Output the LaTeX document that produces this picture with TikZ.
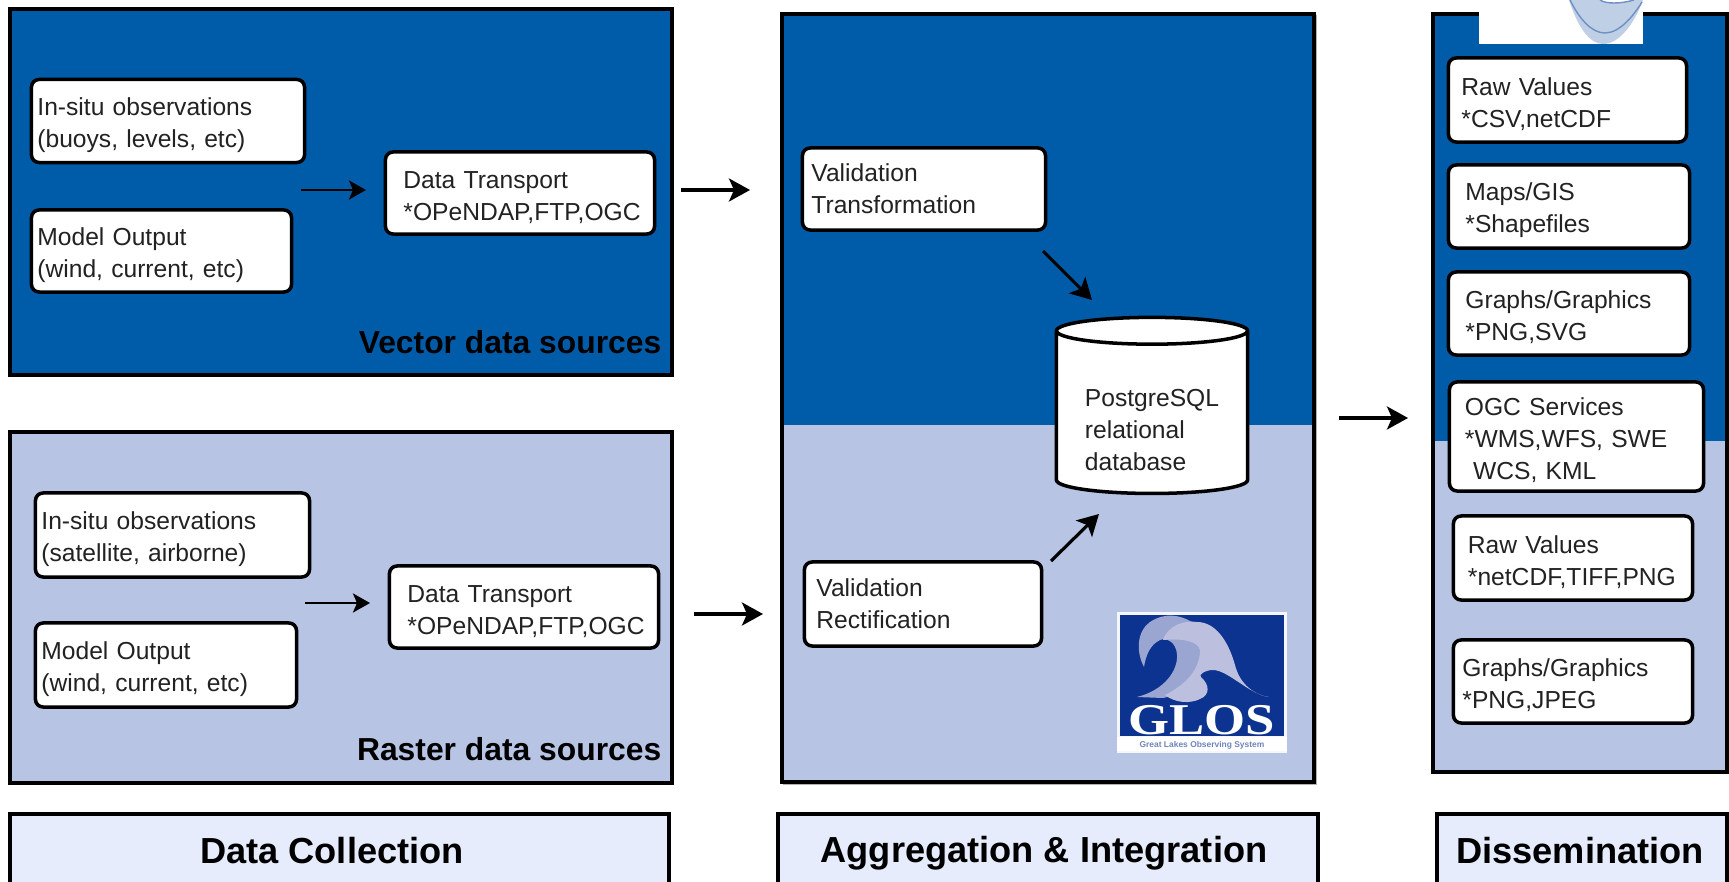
\documentclass[tikz,border=0pt]{standalone}
\usepackage{fontspec}
\setmainfont{Liberation Sans}
\newfontfamily\glosfont[FakeStretch=1.2]{Liberation Serif}
\usetikzlibrary{arrows.meta,shapes.geometric}

\definecolor{vectorblue}{HTML}{005CA9}
\definecolor{rasterblue}{HTML}{B7C4E4}
\definecolor{titleblue}{HTML}{E6ECFB}
\definecolor{logoblue}{HTML}{0D3390}
\definecolor{wavemid}{HTML}{9AA5D2}
\definecolor{wavelight}{HTML}{BCC0DE}
\definecolor{bowlblue}{HTML}{BFD0E6}
\definecolor{bowlline}{HTML}{6F8FC5}
\definecolor{textgray}{HTML}{222222}

\tikzset{
  panelline/.style={draw=black,line width=1pt},
  midbox/.style={draw=black,fill=white,rounded corners=2.2pt,line width=1pt,
    inner ysep=0pt,align=left,text=textgray,
    font=\fontsize{7}{9.1}\selectfont},
  srcbox/.style={midbox,execute at begin node={\rule{0pt}{7.3pt}\ignorespaces}},
  panellabel/.style={anchor=east,inner sep=0pt,font=\fontsize{9.05}{10}\selectfont\bfseries},
  titlelabel/.style={inner sep=0pt,font=\fontsize{10.3}{11}\selectfont\bfseries},
  conn/.style={-{Stealth[length=0.17cm,width=0.19cm,inset=0.04cm]},line width=0.8pt,black},
  connbig/.style={-{Stealth[length=0.21cm,width=0.23cm,inset=0.05cm]},line width=0.9pt,black},
}

\begin{document}
\begin{tikzpicture}[x=0.01cm,y=-0.01cm]
     \useasboundingbox (0,0) rectangle (1729,882);
     \clip (0,0) rectangle (1729,882);
     % left column
     \fill[gray!60] ( 11,  11) rectangle ( 674, 377);
     \fill[gray!60] ( 11, 434) rectangle ( 674, 785);
     \fill[vectorblue,panelline] ( 10,   9) rectangle ( 672, 375);
     \fill[rasterblue,panelline] ( 10, 432) rectangle ( 672, 783);
     % middle column
     \fill[gray!60] (783,  15) rectangle (1317, 785);
     \fill[vectorblue] (782,  14) rectangle (1314, 425);
     \fill[rasterblue] (782, 425) rectangle (1314, 782);
     \draw[panelline]  (782,  14) rectangle (1314, 782);
     % right column
     \fill[vectorblue] (1433,  14) rectangle (1727, 441);
     \fill[rasterblue] (1433, 441) rectangle (1727, 772);
     \draw[panelline]  (1433,  14) rectangle (1727, 772);
     % top logo
     \fill[white] (1479,0) rectangle (1643,44);
     \fill[bowlblue] (1569,0) .. controls (1578,28) and (1590,44) .. (1603,44)
       .. controls (1620,44) and (1635,22) .. (1643,0) -- cycle;
     \draw[bowlline] (1570,0) .. controls (1580,20) and (1592,33) .. (1605,33)
       .. controls (1620,33) and (1634,15) .. (1642,2);
     \fill[white] (1600,0) .. controls (1606,4) and (1620,4) .. (1634,0) -- cycle;
     \draw[bowlline] (1600,0) .. controls (1606,4) and (1620,4) .. (1634,0);
     % bottom titles
     \fill[titleblue,panelline] (  10, 814) rectangle ( 669, 900);
     \fill[titleblue,panelline] ( 778, 814) rectangle (1318, 900);
     \fill[titleblue,panelline] (1437, 814) rectangle (1727, 900);
     \node[titlelabel] (titlecollect) at ( 332, 851) {Data Collection};
     \node[titlelabel] (titleaggr)    at (1044, 853) {Aggregation \& Integration};
     \node[titlelabel] (titledissem)  at (1580, 851) {Dissemination};
     \node[panellabel] (vectorlabel)  at ( 662, 342) {Vector data sources};
     \node[panellabel] (rasterlabel)  at ( 662, 749) {Raster data sources};
     % vector sources
     \node[srcbox,inner xsep=0.06cm,text width=2.61cm,minimum height=0.83cm] (insituvec)
       at (168,121) {In-situ observations\\(buoys, levels, etc)};
     \node[srcbox,inner xsep=0.06cm,text width=2.48cm,minimum height=0.82cm] (modelvec)
       at (161.5,251) {Model Output\\(wind, current, etc)};
     \node[srcbox,inner xsep=0.18cm,text width=2.33cm,minimum height=0.82cm] (transvec)
       at (520,193) {Data Transport\\\mbox{*OPeNDAP,FTP,OGC}};
     % raster sources
     \node[srcbox,inner xsep=0.06cm,text width=2.62cm,minimum height=0.84cm] (insiturast)
       at (172.5,535) {In-situ observations\\(satellite, airborne)};
     \node[srcbox,inner xsep=0.06cm,text width=2.49cm,minimum height=0.84cm] (modelrast)
       at (166,665) {Model Output\\(wind, current, etc)};
     \node[srcbox,inner xsep=0.18cm,text width=2.33cm,minimum height=0.82cm] (transrast)
       at (524,607) {Data Transport\\\mbox{*OPeNDAP,FTP,OGC}};
     % aggregation
     \node[midbox,inner xsep=0.09cm,text width=2.25cm,minimum height=0.82cm] (valtrans)
       at (924,189) {Validation\\Transformation};
     \node[midbox,inner xsep=0.12cm,text width=2.13cm,minimum height=0.84cm] (valrect)
       at (923,604) {Validation\\Rectification};
     \node[cylinder,shape border rotate=90,aspect=0.2,draw=black,fill=white,
       line width=1pt,minimum width=1.91cm,minimum height=1.76cm,inner sep=0pt,
       align=left,text=textgray,font=\fontsize{7}{9.1}\selectfont] (dbase)
       at (1152,413) {\rule{0pt}{14.4pt}PostgreSQL\\relational\\database};
     % dissemination
     \node[srcbox,inner xsep=0.13cm,text width=2.12cm,minimum height=0.84cm] (rawcsv)
       at (1567.5,100) {Raw Values\\{}*CSV,netCDF};
     \node[srcbox,inner xsep=0.17cm,text width=2.07cm,minimum height=0.83cm] (mapsgis)
       at (1569,206.5) {Maps/GIS\\{}*Shapefiles};
     \node[srcbox,inner xsep=0.17cm,text width=2.07cm,minimum height=0.83cm] (graphsvg)
       at (1569,313.5) {Graphs/Graphics\\{}*PNG,SVG};
     \node[srcbox,inner xsep=0.155cm,text width=2.23cm,minimum height=1.09cm] (ogcserv)
       at (1576.5,436.5) {OGC Services\\{}*WMS,WFS, SWE\\\ WCS, KML};
     \node[srcbox,inner xsep=0.145cm,text width=2.10cm,minimum height=0.84cm] (rawnetcdf)
       at (1573,558) {Raw Values\\\mbox{*netCDF,TIFF,PNG}};
     \node[srcbox,inner xsep=0.09cm,text width=2.21cm,minimum height=0.83cm] (graphjpeg)
       at (1573,681.5) {Graphs/Graphics\\{}*PNG,JPEG};
     % connectors
     \coordinate (vecin)    at ( 301, 190);
     \coordinate (vecend)   at ( 366, 190);
     \coordinate (vecout)   at ( 681, 190);
     \coordinate (vecdest)  at ( 750, 190);
     \coordinate (rastin)   at ( 305, 603);
     \coordinate (rastend)  at ( 370, 603);
     \coordinate (rastout)  at ( 694, 614);
     \coordinate (rastdest) at ( 763, 614);
     \coordinate (transout) at (1043, 251);
     \coordinate (dbtop)    at (1092, 300);
     \coordinate (rectout)  at (1051, 561);
     \coordinate (dbbot)    at (1099, 514);
     \coordinate (midout)   at (1339, 418);
     \coordinate (rightin)  at (1408, 418);
     \draw[conn] (vecin) -- (vecend);
     \draw[connbig] (vecout) -- (vecdest);
     \draw[conn] (rastin) -- (rastend);
     \draw[connbig] (rastout) -- (rastdest);
     \draw[connbig] (transout) -- (dbtop);
     \draw[connbig] (rectout) -- (dbbot);
     \draw[connbig] (midout) -- (rightin);
     % glos logo
     \fill[white!85!rasterblue] (1117,612) rectangle (1287,753);
     \fill[logoblue] (1120,615) rectangle (1284,736);
     \fill[wavemid] (1137,697) .. controls (1165,690) and (1178,670) .. (1177,655)
       .. controls (1176,640) and (1165,638) .. (1160,640)
       .. controls (1150,645) and (1146,655) .. (1144,667)
       .. controls (1135,650) and (1138,630) .. (1150,622)
       .. controls (1165,612) and (1180,615) .. (1192,622)
       .. controls (1205,640) and (1205,665) .. (1190,682)
       .. controls (1180,692) and (1170,697) .. (1163,698) -- cycle;
     \fill[wavelight] (1163,640) .. controls (1168,625) and (1185,620) .. (1197,622)
       .. controls (1215,622) and (1228,640) .. (1235,665)
       .. controls (1240,685) and (1255,695) .. (1269,697)
       .. controls (1250,695) and (1228,670) .. (1213,670)
       .. controls (1205,670) and (1198,675) .. (1201,677)
       .. controls (1210,685) and (1210,695) .. (1200,699)
       .. controls (1190,704) and (1175,703) .. (1165,695)
       .. controls (1185,685) and (1200,670) .. (1200,650)
       .. controls (1198,642) and (1185,638) .. (1163,640) -- cycle;
     \node[inner sep=0pt,text=white,font=\fontsize{12.5}{13}\glosfont\bfseries] (glosname)
       at (1202,720) {GLOS};
     \fill[white] (1117,737) rectangle (1287,751);
     \node[inner sep=0pt,text=logoblue!60,font=\fontsize{2.4}{3}\selectfont\bfseries] (glossub)
       at (1202,745) {Great Lakes Observing System};
\end{tikzpicture}
\end{document}
